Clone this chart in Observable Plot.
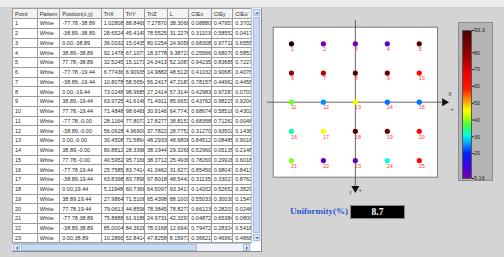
<!DOCTYPE html>
<html><head><meta charset="utf-8">
<script src="https://cdn.jsdelivr.net/npm/d3@7"></script>
<script src="https://cdn.jsdelivr.net/npm/@observablehq/plot@0.6"></script>
<style>
html,body{margin:0;padding:0;}
body{width:504px;height:257px;overflow:hidden;background:#d4d4d4;position:relative;font-family:"Liberation Sans",Arial,sans-serif;}
#topband{position:absolute;left:0;top:0;width:504px;height:7px;background:#ececec;}
#tablepanel{position:absolute;left:12px;top:8px;width:249px;height:243px;background:#fff;border-right:1px solid #8a8a8a;border-bottom:1px solid #8a8a8a;overflow:hidden;}
#tablewrap{position:absolute;left:0;top:0;width:239px;height:235px;overflow:hidden;}
table{border-collapse:collapse;table-layout:fixed;font-size:5.5px;color:#2a2a2a;width:242px;}
td,th{border:1px solid #9c9c9c;padding:0 0 0 2px;overflow:hidden;white-space:nowrap;text-align:left;font-weight:normal;line-height:8px;}
th{background:#f3f3f3;height:9px;}
td{height:8.75px;}
#vscroll{position:absolute;left:239px;top:0;width:10px;height:235px;background:#eef2f8;border-left:1px solid #b8c4d8;box-sizing:border-box;}
#vthumb{position:absolute;left:1px;top:9px;width:7px;height:216px;background:#c9d9f2;border:1px solid #a8bde0;box-sizing:border-box;}
.arrowbox{position:absolute;background:#dfe8f6;border:1px solid #a8bde0;box-sizing:border-box;width:7px;height:7px;}
.tri{position:absolute;width:0;height:0;}
#hscroll{position:absolute;left:0;top:235px;width:239px;height:8px;background:#eef2f8;border-top:1px solid #b8c4d8;box-sizing:border-box;}
#hthumb{position:absolute;left:9px;top:0px;width:176px;height:7px;background:#c9d9f2;border:1px solid #a8bde0;box-sizing:border-box;}
#chart{position:absolute;left:262px;top:12px;}
#cbar{position:absolute;left:458px;top:22px;background:#b4b4b4;border:1px solid #8c8c8c;}
#unilabel{position:absolute;left:290px;top:204px;font-family:"Liberation Serif","Times New Roman",serif;font-weight:bold;font-size:9px;color:#2d55d6;line-height:14px;white-space:nowrap;}
#unibox{position:absolute;left:350px;top:205px;width:55px;height:14px;background:#000;border:1px solid #8a8a8a;box-sizing:border-box;color:#fff;font-family:"Liberation Serif","Times New Roman",serif;font-weight:bold;font-size:9.5px;text-align:center;line-height:12px;}
</style></head>
<body>
<div id="topband"></div>
<div id="tablepanel">
  <div id="tablewrap"></div>
  <div id="vscroll">
    <div class="arrowbox" style="left:1px;top:1px;"><div class="tri" style="left:1px;top:1.5px;border-left:2px solid transparent;border-right:2px solid transparent;border-bottom:2.5px solid #4a6aa8;"></div></div>
    <div id="vthumb"></div>
    <div class="arrowbox" style="left:1px;top:226px;"><div class="tri" style="left:1px;top:1.5px;border-left:2px solid transparent;border-right:2px solid transparent;border-top:2.5px solid #4a6aa8;"></div></div>
  </div>
  <div id="hscroll">
    <div class="arrowbox" style="left:1px;top:0px;"><div class="tri" style="left:1.5px;top:1px;border-top:2px solid transparent;border-bottom:2px solid transparent;border-right:2.5px solid #4a6aa8;"></div></div>
    <div id="hthumb"></div>
    <div class="arrowbox" style="left:231px;top:0px;"><div class="tri" style="left:1.5px;top:1px;border-top:2px solid transparent;border-bottom:2px solid transparent;border-left:2.5px solid #4a6aa8;"></div></div>
  </div>
</div>
<div id="chart"></div>
<div id="cbar"></div>
<div id="unilabel">Uniformity(%)</div>
<div id="unibox">8.7</div>
<script>
// ---- table data ----
const tableHeaders = ["Point","Pattern","Position(x,y)","TriX","TriY","TriZ","L","CIEx","CIEy","CIEu'"];
const tablePoint = ["1","2","3","4","5","6","7","8","9","10","11","12","13","14","15","16","17","18","19","20","21","22","23"];
const tablePattern = "White";
const tablePosition = ["-77.78,-38.89","-38.89,-38.89","0.00,-38.89","38.89,-38.89","77.78,-38.89","-77.78,-19.44","-38.89,-19.44","0.00,-19.44","38.89,-19.44","77.78,-19.44","-77.78,-0.00","-38.89,-0.00","0.00,-0.00","38.89,-0.00","77.78,-0.00","-77.78,19.44","-38.89,19.44","0.00,19.44","38.89,19.44","77.78,19.44","-77.78,38.89","-38.89,38.89","0.00,38.89"];
const triX = ["1.028085","28.65246","36.00325","92.14789","32.52457","6.774366","10.80785","73.02489","63.97254","71.48489","28.11649","56.06287","30.45082","80.88129","40.59521","25.75852","63.83985","5.119482","27.98643","79.06132","75.88886","85.00041","10.28664"];
const triY = ["88.84687","45.41494","15.04353","67.10777","15.11735","6.909355","58.56544","98.96855","41.61482","98.64681","77.80711","4.969007","71.58643","28.33986","95.71688","83.74142","83.78985","60.73684","71.51084","44.85985","61.91887","84.36287","52.84146"];
const triZ = ["7.278703","78.55252","80.02546","18.37788","24.34132","14.98829","56.24175","27.24146","71.49112","30.91462","17.82779","37.78225","48.29332","38.19447","38.37125","41.34625","97.80188","64.50978","65.43988","78.38452","24.97312","78.01688","47.82585"];
const lum = ["38.30686","31.22768","24.90588","9.387214","52.10874","48.51207","47.21877","57.31442","85.66512","64.77432","38.81515","28.77517","48.68082","29.32688","25.49398","31.62738","48.54432","93.34178","88.10018","78.82712","42.32974","12.69438","8.159734"];
const cieX = ["0.088805","0.311031","0.683088","0.255668","0.942355","0.410327","0.781578","0.429837","0.437628","0.686748","0.683588","0.312709","0.845125","0.529608","0.782608","0.854508","0.311358","0.142028","0.550335","0.661237","0.048722","0.794722","0.366218"];
const cieY = ["0.479572","0.585522","0.977118","0.680702","0.836857","0.906877","0.449622","0.972877","0.982298","0.585165","0.712628","0.935028","0.084852","0.051352","0.299289","0.980477","0.330277","0.526528","0.300302","0.282034","0.653845","0.283248","0.469638"];
const cieU = ["0.370244","0.041746","0.655578","0.585334","0.722764","0.407642","0.445844","0.070308","0.920443","0.430249","0.004837","0.143826","0.901664","0.214838","0.601867","0.841356","0.876236","0.352908","0.154712","0.024815","0.080023","0.541844","0.486831"];

// ---- chart data ----
const pointId = [1,2,3,4,5,6,7,8,9,10,11,12,13,14,15,16,17,18,19,20,21,22,23,24,25];
const posX = [-77.78,-38.89,0,38.89,77.78,-77.78,-38.89,0,38.89,77.78,-77.78,-38.89,0,38.89,77.78,-77.78,-38.89,0,38.89,77.78,-77.78,-38.89,0,38.89,77.78];
const posY = [-38.89,-38.89,-38.89,-38.89,-38.89,-19.44,-19.44,-19.44,-19.44,-19.44,0,0,0,0,0,19.44,19.44,19.44,19.44,19.44,38.89,38.89,38.89,38.89,38.89];
const level = [99,6,6,8,92,80,75,91,88,64,39,25,45,24,24,33,46,91,86,64,40,10,9,31,64];
const colorStops = [5.16,12,20,26,31,37,42,46,52,58,66,78,93.3,100];
const colorValues = ["#7b00a8","#4400e0","#0020ff","#00a0ff","#00ffe0","#40ff40","#c0ff00","#ffff00","#ff9000","#ff2000","#ff0000","#a00000","#4a0000","#000000"];
const barMin = 5.16, barMax = 93.3;
const barTicks = [5.16,20,30,40,50,60,70,80,93.3];
const uniformity = "8.7";

// ---- build table ----
const colW = [24.7,22.6,41.4,22,21.3,22.7,21.6,22.4,21.6,22];
let html = "<table><colgroup>" + colW.map(w => `<col style="width:${w}px">`).join("") + "</colgroup><tr>" +
  tableHeaders.map(h => `<th>${h}</th>`).join("") + "</tr>";
tablePoint.forEach((p, i) => {
  const cells = [p, tablePattern, tablePosition[i], triX[i], triY[i], triZ[i], lum[i], cieX[i], cieY[i], cieU[i]];
  html += "<tr>" + cells.map(c => `<td>${c}</td>`).join("") + "</tr>";
});
html += "</table>";
document.getElementById("tablewrap").innerHTML = html;
document.getElementById("unibox").textContent = uniformity;

// ---- chart ----
const points = pointId.map((id, i) => ({id, x: posX[i], y: posY[i], v: level[i]}));
const colorScale = {type: "linear", domain: colorStops, range: colorValues, interpolate: "rgb", clamp: true};

const chart = Plot.plot({
  width: 195, height: 188,
  marginLeft: 10.7, marginRight: 20, marginTop: 14.7, marginBottom: 23.3,
  style: {background: "none", overflow: "visible"},
  x: {domain: [-100, 100], axis: null},
  y: {domain: [-50, 50], reverse: true, axis: null},
  color: colorScale,
  marks: [
    Plot.frame({fill: "white", stroke: "#7c7c7c"}),
    Plot.ruleY([0], {x1: -107, x2: 106, stroke: "#444", strokeWidth: 0.8}),
    Plot.ruleX([0], {y1: -54.5, y2: 56, stroke: "#444", strokeWidth: 0.8}),
    Plot.dot([{x: 108.5, y: 0}], {x: "x", y: "y", symbol: "triangle", rotate: 90, r: 3, fill: "#111", stroke: null}),
    Plot.dot([{x: 0, y: 57.5}], {x: "x", y: "y", symbol: "triangle", rotate: 180, r: 3, fill: "#111", stroke: null}),
    Plot.text([{x: 115, y: -5.5, t: "X"}, {x: 118, y: 4.5, t: "+"}, {x: -6, y: 60.5, t: "Y"}, {x: 6, y: 58.5, t: "+"}],
      {x: "x", y: "y", text: "t", fontSize: 5, fill: "#333", fontFamily: "Liberation Sans"}),
    Plot.dot(points, {x: "x", y: "y", fill: "v", r: 2.6, stroke: null}),
    Plot.text(points, {x: "x", y: "y", text: "id", dx: -0.5, dy: 5.5, textAnchor: "start", fill: "#ff3a3a", fontSize: 5.5, fontFamily: "Liberation Sans"})
  ]
});
document.getElementById("chart").appendChild(chart);

// ---- colour bar ----
const cbar = Plot.plot({
  width: 33, height: 157,
  marginLeft: 3, marginRight: 21, marginTop: 7, marginBottom: 2,
  style: {background: "none", overflow: "visible"},
  x: {domain: [0, 1], axis: null},
  y: {domain: [barMin, barMax], axis: null},
  color: colorScale,
  marks: [
    Plot.raster({fill: (x, y) => y, x1: 0, x2: 1, y1: barMin, y2: barMax, width: 1, height: 300}),
    Plot.frame({stroke: "#555"}),
    Plot.axisY(barTicks, {anchor: "right", tickSize: 2, tickPadding: 0.5, fontSize: 5.5, tickFormat: d => String(d), stroke: "#222", fill: "#222", fontFamily: "Liberation Sans"})
  ]
});
document.getElementById("cbar").appendChild(cbar);
</script>
</body></html>
